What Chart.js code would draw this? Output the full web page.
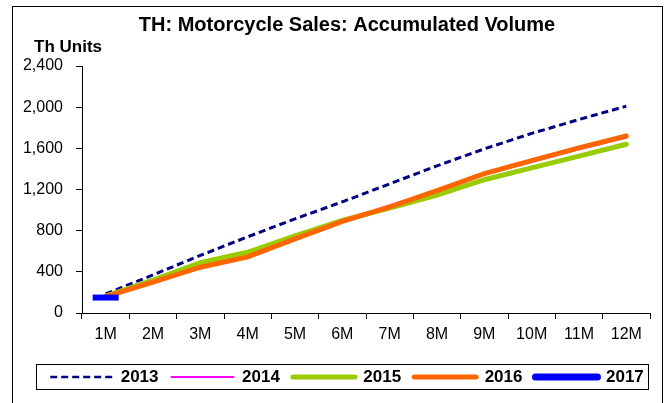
<!DOCTYPE html>
<html>
<head>
<meta charset="utf-8">
<script src="https://cdn.jsdelivr.net/npm/chart.js@4.4.1/dist/chart.umd.min.js"></script>
<style>
  html, body { margin: 0; padding: 0; background: #fff; }
  #chartBox { position: absolute; left: 0; top: 0; width: 669px; height: 403px; }
</style>
</head>
<body>
<div id="chartBox"><canvas id="salesChart" width="669" height="403"></canvas></div>
<script>
// accumulated sales, thousand units
const months = ['1M', '2M', '3M', '4M', '5M', '6M', '7M', '8M', '9M', '10M', '11M', '12M'];
const sales2013 = [185, 370, 560, 740, 915, 1080, 1255, 1430, 1595, 1745, 1880, 2010];
const sales2014 = [145, 295, 440, 545, 715, 885, 1045, 1195, 1345, 1470, 1590, 1705];
const sales2015 = [165, 320, 490, 590, 750, 900, 1020, 1145, 1295, 1410, 1525, 1640];
const sales2016 = [160, 300, 445, 545, 720, 890, 1030, 1190, 1355, 1480, 1605, 1720];
const sales2017 = [150, null, null, null, null, null, null, null, null, null, null, null];
const yTicks = [0, 400, 800, 1200, 1600, 2000, 2400];

const FONT = 'Arial, "Liberation Sans", sans-serif';

// outer frame + box around the legend
let framePlugin = {
    id: 'frames',
    afterDraw: function (chart) {
        let ctx = chart.ctx;
        ctx.save();
        ctx.strokeStyle = '#000';
        ctx.lineWidth = 1;
        ctx.strokeRect(12.5, 6.5, 650, 420);

        let boxes = chart.legend.legendHitBoxes;
        if (boxes && boxes.length) {
            let first = boxes[0];
            let last = boxes[boxes.length - 1];
            let left = Math.round(first.left - 14) + 0.5;
            let right = Math.round(last.left + last.width + 4) + 0.5;
            let top = Math.round(first.top - 4.5) + 0.5;
            ctx.strokeRect(left, top, right - left, 25);
        }
        ctx.restore();
    }
};

let legendWidths = [2.5, 2, 5, 5, 7];

let lineLegend = function (chart) {
    return chart.data.datasets.map(function (ds, i) {
        return {
            text: ds.label,
            datasetIndex: i,
            pointStyle: 'line',
            strokeStyle: ds.borderColor,
            fillStyle: ds.borderColor,
            lineWidth: legendWidths[i],
            lineDash: ds.borderDash || [],
            lineCap: i === 0 ? 'butt' : 'round',
            fontColor: '#000',
            hidden: false
        };
    });
};

let salesData = {
    labels: months,
    datasets: [
        { label: '2013', data: sales2013, borderColor: '#000080', borderWidth: 3, borderDash: [7, 4], order: 4 },
        { label: '2014', data: sales2014, borderColor: '#FF00FF', borderWidth: 2, order: 3 },
        { label: '2015', data: sales2015, borderColor: '#99CC00', borderWidth: 5, borderCapStyle: 'round', order: 2 },
        { label: '2016', data: sales2016, borderColor: '#FF6600', borderWidth: 5, borderCapStyle: 'round', order: 1 },
        {
            label: '2017', data: sales2017, borderColor: '#0000FF', borderWidth: 6, order: 0,
            pointStyle: 'line', pointRadius: 13, pointBorderWidth: 6,
            pointBorderColor: '#0000FF', pointBackgroundColor: '#0000FF'
        }
    ]
};

salesData.datasets.forEach(function (ds) {
    ds.tension = 0;
    ds.fill = false;
    if (ds.pointRadius === undefined) ds.pointRadius = 0;
    ds.pointHoverRadius = 0;
});

let ctx = document.getElementById('salesChart').getContext('2d');
window.salesChart = new Chart(ctx, {
    type: 'line',
    data: salesData,
    plugins: [framePlugin],
    options: {
        responsive: false,
        animation: false,
        layout: { padding: { left: 34, right: 9, top: 0, bottom: 7.5 } },
        plugins: {
            title: {
                display: true,
                text: 'TH: Motorcycle Sales: Accumulated Volume',
                color: '#000',
                font: { family: FONT, size: 20, weight: 'bold' },
                padding: { top: 13, bottom: 0 }
            },
            subtitle: {
                display: true,
                text: 'Th Units',
                align: 'start',
                color: '#000',
                font: { family: FONT, size: 17, weight: 'bold' },
                padding: { top: 0, bottom: 8.6 }
            },
            legend: {
                position: 'bottom',
                labels: {
                    usePointStyle: true,
                    pointStyleWidth: 62,
                    padding: 13,
                    color: '#000',
                    font: { family: FONT, size: 17, weight: 'bold' },
                    generateLabels: lineLegend
                }
            },
            tooltip: { enabled: false }
        },
        scales: {
            x: {
                offset: true,
                grid: { drawOnChartArea: false, drawTicks: true, tickLength: 6, color: '#000', offset: true },
                border: { color: '#000', width: 1 },
                ticks: { color: '#000', padding: 6, maxRotation: 0, font: { family: FONT, size: 16 } },
                afterFit: function (scale) { scale.height = 42.5; }
            },
            y: {
                min: 0,
                max: 2400,
                afterBuildTicks: function (scale) {
                    scale.ticks = yTicks.map(function (v) { return { value: v }; });
                },
                grid: { drawOnChartArea: false, drawTicks: true, tickLength: 6, color: '#000' },
                border: { color: '#000', width: 1 },
                ticks: {
                    color: '#000',
                    padding: 13,
                    font: { family: FONT, size: 16 },
                    callback: function (v) { return v.toLocaleString('en-US'); }
                },
                afterFit: function (scale) {
                    scale.width = 48;
                    // labels reach past the left padding, so don't clip them
                    scale._computeLabelArea = function () { return undefined; };
                }
            }
        }
    }
});
</script>
</body>
</html>
